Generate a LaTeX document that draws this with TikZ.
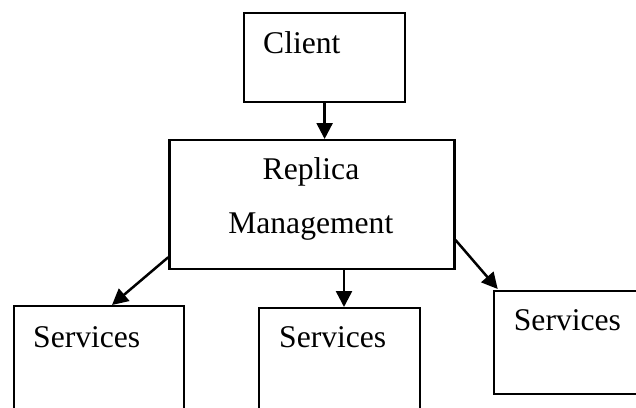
\documentclass[tikz,border=0pt]{standalone}
\usepackage{fontspec}
\setmainfont{Liberation Serif}
\usetikzlibrary{arrows.meta,calc}
\begin{document}
\begin{tikzpicture}[x=1pt,y=-1pt,
  box/.style={draw=black,line width=2.2pt,rectangle,inner sep=0pt,anchor=north west},
  lbl/.style={inner sep=0pt,font=\fontsize{31.6}{38}\selectfont},
  arr/.style={line width=2.5pt,-{Triangle[length=16pt,width=16pt]}}]
\useasboundingbox (0,0) rectangle (636,407);
\clip (0,0) rectangle (636,407);
% boxes
\node[box,minimum width=161pt,minimum height=89pt] (client) at (243,12) {};
\node[box,minimum width=285pt,minimum height=129pt] (replica) at (168.3,139) {};
\node[box,minimum width=170pt,minimum height=120pt] (left) at (12.7,305) {};
\node[box,minimum width=161.3pt,minimum height=120pt] (mid) at (257.7,307) {};
\node[box,minimum width=160pt,minimum height=103pt] (right) at (492.7,290) {};
% labels
\node[lbl,anchor=base west] (tclient) at (263,53) {Client};
\node[lbl,anchor=base] (trep) at (311,179) {Replica};
\node[lbl,anchor=base] (tman) at (310.8,233) {Management};
\node[lbl,anchor=base west] (tleft) at (33,347) {Services};
\node[lbl,anchor=base west] (tmid) at (279,347.7) {Services};
\node[lbl,anchor=base west] (tright) at (513.7,330) {Services};
% connectors
\draw[arr] (client.south) -- (client.south |- replica.north);
\draw[arr] ($(replica.south west)+(175.7,0)$) -- ($(mid.north west)+(86.3,0)$);
\draw[arr] ($(replica.south west)+(0,-13)$) -- ($(left.north west)+(99.3,0)$);
\draw[arr] ($(replica.north east)+(0,101)$) -- ($(right.north west)+(5,-1)$);
\end{tikzpicture}
\end{document}
